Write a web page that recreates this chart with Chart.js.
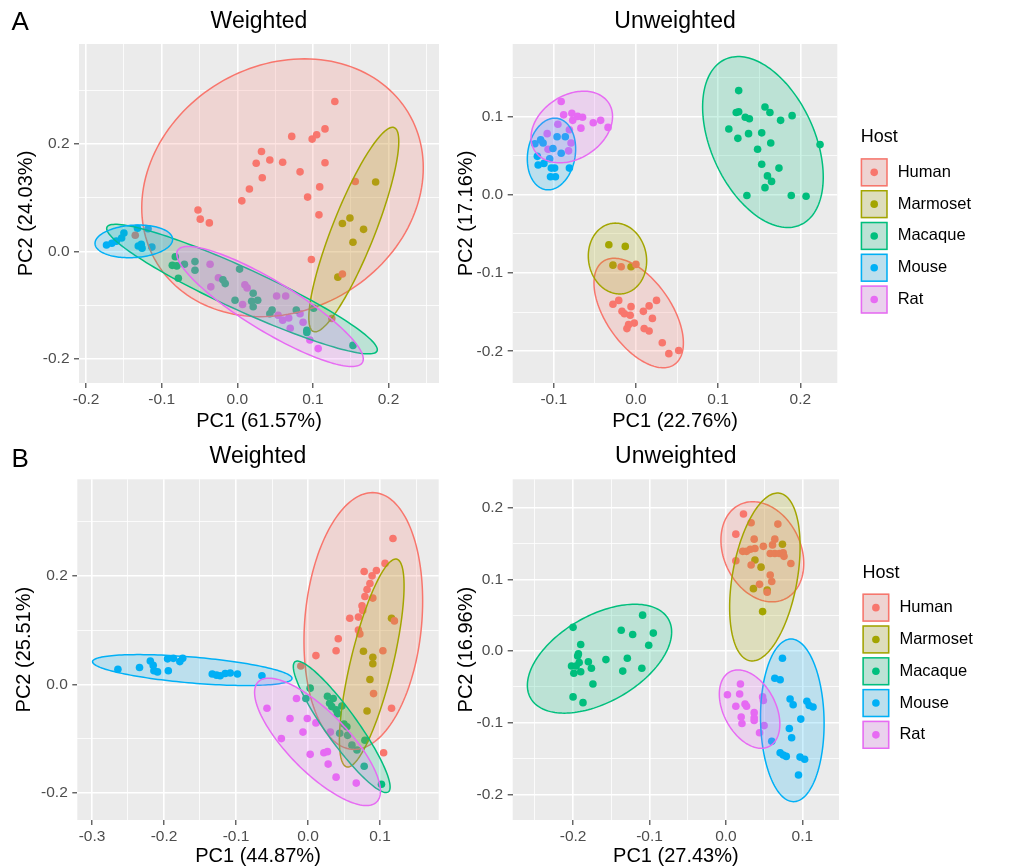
<!DOCTYPE html>
<html>
<head>
<meta charset="utf-8">
<script src="https://cdn.jsdelivr.net/npm/chart.js@4.4.1/dist/chart.umd.min.js"></script>
<style>
  html, body { margin: 0; padding: 0; background: #fff; }
  #wrap { position: relative; width: 1030px; height: 868px; }
  canvas { position: absolute; }
</style>
</head>
<body>
<div id="wrap">
  <canvas id="aWeighted" width="450" height="440" style="left:0;top:0"></canvas>
  <canvas id="aUnweighted" width="580" height="440" style="left:450px;top:0"></canvas>
  <canvas id="bWeighted" width="450" height="428" style="left:0;top:440px"></canvas>
  <canvas id="bUnweighted" width="580" height="428" style="left:450px;top:440px"></canvas>
</div>
<script>
const FONT = '"Liberation Sans", Arial, sans-serif';
const hosts = ['Human', 'Marmoset', 'Macaque', 'Mouse', 'Rat'];
const hostColors = ['#F8766D', '#A3A500', '#00BF7D', '#00B0F6', '#E76BF3'];

// ---- A, weighted ----
const aWHuman = [[0.129,0.279],[0.072,0.214],[0.099,0.209],[0.105,0.217],[0.116,0.228],[0.032,0.186],[0.025,0.164],[0.043,0.170],[0.060,0.166],[0.083,0.148],[0.116,0.165],[0.033,0.137],[0.016,0.116],[0.006,0.094],[0.109,0.120],[0.093,0.101],[0.108,0.068],[-0.052,0.077],[-0.049,0.060],[-0.037,0.053],[0.156,0.130],[0.098,-0.015],[0.139,-0.042],[-0.135,0.030],[0.125,-0.125]];
const aWMarmoset = [[0.183,0.129],[0.139,0.052],[0.149,0.062],[0.167,0.041],[0.153,0.017],[0.133,-0.048]];
const aWMacaque = [[-0.082,-0.010],[-0.086,-0.026],[-0.080,-0.027],[-0.070,-0.024],[-0.056,-0.019],[-0.056,-0.035],[-0.078,-0.050],[0.003,-0.033],[-0.019,-0.053],[-0.016,-0.060],[0.021,-0.078],[0.027,-0.091],[0.019,-0.093],[0.021,-0.103],[-0.003,-0.091],[0.046,-0.109],[0.043,-0.116],[0.078,-0.109],[0.101,-0.106],[0.092,-0.147],[0.092,-0.151],[0.153,-0.175]];
const aWMouse = [[-0.173,0.012],[-0.166,0.015],[-0.160,0.019],[-0.153,0.025],[-0.150,0.034],[-0.132,0.043],[-0.118,0.042],[-0.131,0.010],[-0.126,0.006],[-0.113,0.008],[-0.127,0.013]];
const aWRat = [[-0.036,-0.024],[-0.025,-0.049],[-0.035,-0.066],[0.010,-0.062],[0.013,-0.068],[0.007,-0.099],[0.052,-0.083],[0.064,-0.083],[0.054,-0.119],[0.060,-0.128],[0.068,-0.124],[0.070,-0.143],[0.083,-0.116],[0.087,-0.132],[0.096,-0.165],[0.107,-0.181]];
// ellipse per host: [cx, cy, dx to rightmost point, dy to rightmost point, half height straight above centre]
const aWEllipses = [[0.0598,0.1184,0.1862,0.0372,0.2371],[0.1541,0.0406,0.0595,0.1639,0.0968],[0.0062,-0.0702,0.1790,-0.1127,0.0428],[-0.1369,0.0186,0.0513,0.0037,0.0302],[0.0433,-0.1025,0.1234,-0.0978,0.0540]];
const aWXRange = [-0.2094, 0.2668], aWYRange = [-0.245, 0.386];
const aWXMajor = [-0.2,-0.1,0,0.1,0.2], aWXMinor = [-0.15,-0.05,0.05,0.15,0.25];
const aWYMajor = [-0.2,0,0.2], aWYMinor = [-0.1,0.1,0.3];

// ---- A, unweighted ----
const aUHuman = [[-0.018,-0.092],[0.000,-0.089],[-0.028,-0.140],[-0.021,-0.135],[-0.017,-0.149],[-0.014,-0.152],[-0.006,-0.143],[-0.007,-0.154],[-0.002,-0.164],[-0.009,-0.166],[-0.011,-0.171],[0.009,-0.149],[0.016,-0.142],[0.025,-0.135],[0.020,-0.158],[0.010,-0.171],[0.016,-0.174],[0.032,-0.189],[0.040,-0.203],[0.052,-0.199]];
const aUMarmoset = [[-0.033,-0.064],[-0.013,-0.066],[-0.028,-0.090],[-0.006,-0.092]];
const aUMacaque = [[0.125,0.133],[0.122,0.105],[0.125,0.106],[0.133,0.099],[0.138,0.097],[0.157,0.112],[0.163,0.105],[0.176,0.095],[0.190,0.101],[0.113,0.084],[0.124,0.072],[0.137,0.078],[0.153,0.079],[0.164,0.066],[0.148,0.058],[0.153,0.039],[0.174,0.034],[0.160,0.024],[0.165,0.017],[0.157,0.009],[0.135,-0.001],[0.189,-0.001],[0.207,-0.002],[0.224,0.064]];
const aUMouse = [[-0.123,0.065],[-0.116,0.070],[-0.113,0.066],[-0.096,0.074],[-0.086,0.074],[-0.101,0.059],[-0.105,0.046],[-0.091,0.053],[-0.120,0.049],[-0.119,0.038],[-0.112,0.040],[-0.103,0.034],[-0.099,0.034],[-0.104,0.023],[-0.098,0.023],[-0.081,0.034]];
const aURat = [[-0.091,0.119],[-0.088,0.102],[-0.078,0.104],[-0.077,0.095],[-0.071,0.100],[-0.065,0.099],[-0.067,0.085],[-0.052,0.092],[-0.043,0.095],[-0.034,0.086],[-0.081,0.083],[-0.108,0.078],[-0.095,0.090],[-0.079,0.066],[-0.082,0.056],[-0.107,0.058]];
const aUEllipses = [[0.0033,-0.1511,0.0544,-0.0383,0.0585],[-0.0225,-0.0815,0.0355,-0.0032,0.0451],[0.1545,0.0673,0.0734,-0.0447,0.0996],[-0.1028,0.0520,0.0294,0.0064,0.0453],[-0.0781,0.0865,0.0496,0.0134,0.0437]];
const aUXRange = [-0.150, 0.245], aUYRange = [-0.2405, 0.1925];
const aUXMajor = [-0.1,0,0.1,0.2], aUXMinor = [-0.05,0.05,0.15];
const aUYMajor = [-0.2,-0.1,0,0.1], aUYMinor = [-0.15,-0.05,0.05,0.15];

// ---- B, weighted ----
const bWHuman = [[0.118,0.269],[0.107,0.223],[0.095,0.210],[0.078,0.208],[0.089,0.200],[0.086,0.186],[0.082,0.175],[0.079,0.162],[0.090,0.159],[0.075,0.145],[0.076,0.136],[0.070,0.124],[0.058,0.122],[0.070,0.100],[0.072,0.093],[0.042,0.084],[0.039,0.062],[0.011,0.053],[0.104,0.062],[0.120,0.117],[-0.010,0.034],[0.091,-0.017],[0.116,-0.044],[0.105,-0.126]];
const bWMarmoset = [[0.116,0.122],[0.077,0.061],[0.090,0.050],[0.090,0.038],[0.086,0.009],[0.082,-0.049]];
const bWMacaque = [[0.003,-0.007],[-0.003,-0.026],[0.027,-0.022],[0.035,-0.026],[0.030,-0.035],[0.033,-0.041],[0.039,-0.047],[0.041,-0.054],[0.050,-0.073],[0.054,-0.078],[0.055,-0.094],[0.044,-0.090],[0.061,-0.112],[0.068,-0.121],[0.079,-0.103],[0.078,-0.151],[0.102,-0.184],[0.047,-0.040]];
const bWMouse = [[-0.264,0.028],[-0.234,0.031],[-0.219,0.043],[-0.215,0.035],[-0.214,0.025],[-0.209,0.023],[-0.195,0.047],[-0.187,0.048],[-0.178,0.042],[-0.174,0.048],[-0.194,0.025],[-0.133,0.019],[-0.127,0.017],[-0.122,0.016],[-0.115,0.020],[-0.108,0.021],[-0.098,0.019],[-0.064,0.016]];
const bWRat = [[-0.057,-0.044],[-0.016,-0.026],[-0.025,-0.063],[-0.001,-0.063],[-0.007,-0.088],[-0.037,-0.100],[0.003,-0.129],[0.022,-0.126],[0.027,-0.124],[0.028,-0.147],[0.039,-0.171],[0.067,-0.182],[0.011,-0.071],[0.031,-0.088]];
const bWEllipses = [[0.0768,0.1168,0.0824,0.0369,0.2338],[0.0885,0.0393,0.0449,0.1421,0.1286],[0.0468,-0.0782,0.0672,-0.1109,0.0487],[-0.1607,0.0264,0.1385,-0.0153,0.0240],[0.0132,-0.1059,0.0874,-0.0910,0.0742]];
const bWXRange = [-0.3204, 0.1815], bWYRange = [-0.250, 0.378];
const bWXMajor = [-0.3,-0.2,-0.1,0,0.1], bWXMinor = [-0.25,-0.15,-0.05,0.05,0.15];
const bWYMajor = [-0.2,0,0.2], bWYMinor = [-0.1,0.1,0.3];

// ---- B, unweighted ----
const bUHuman = [[0.023,0.191],[0.033,0.179],[0.068,0.177],[0.013,0.163],[0.037,0.156],[0.064,0.156],[0.022,0.139],[0.027,0.139],[0.032,0.142],[0.038,0.143],[0.049,0.146],[0.058,0.136],[0.061,0.148],[0.064,0.136],[0.070,0.136],[0.075,0.137],[0.076,0.132],[0.085,0.122],[0.013,0.126],[0.033,0.120],[0.058,0.106],[0.060,0.097],[0.044,0.093],[0.054,0.082]];
const bUMarmoset = [[0.074,0.149],[0.038,0.127],[0.046,0.117],[0.036,0.087],[0.054,0.085],[0.048,0.055]];
const bUMacaque = [[-0.200,0.033],[-0.190,0.009],[-0.193,-0.004],[-0.202,-0.021],[-0.196,-0.021],[-0.192,-0.016],[-0.199,-0.031],[-0.190,-0.029],[-0.180,-0.015],[-0.176,-0.024],[-0.174,-0.046],[-0.200,-0.064],[-0.187,-0.072],[-0.157,-0.012],[-0.137,0.029],[-0.122,0.023],[-0.109,0.050],[-0.095,0.025],[-0.101,0.008],[-0.129,-0.010],[-0.135,-0.028],[-0.110,-0.024],[-0.194,-0.007]];
const bUMouse = [[0.074,-0.010],[0.064,-0.038],[0.071,-0.040],[0.084,-0.067],[0.088,-0.075],[0.098,-0.095],[0.106,-0.070],[0.109,-0.076],[0.114,-0.078],[0.083,-0.108],[0.086,-0.121],[0.060,-0.126],[0.071,-0.142],[0.075,-0.145],[0.079,-0.147],[0.097,-0.148],[0.103,-0.151],[0.095,-0.173]];
const bURat = [[0.002,-0.061],[0.019,-0.046],[0.018,-0.060],[0.013,-0.077],[0.025,-0.074],[0.027,-0.077],[0.020,-0.092],[0.021,-0.101],[0.037,-0.086],[0.037,-0.093],[0.037,-0.097],[0.048,-0.064],[0.049,-0.069],[0.050,-0.104],[0.044,-0.114]];
const bUEllipses = [[0.0477,0.1384,0.0542,-0.0163,0.0679],[0.0510,0.1032,0.0461,0.0423,0.1092],[-0.1654,-0.0107,0.0944,0.0372,0.0662],[0.0869,-0.0967,0.0416,-0.0046,0.1133],[0.0310,-0.0810,0.0396,-0.0209,0.0505]];
const bUXRange = [-0.279, 0.148], bUYRange = [-0.2357, 0.2395];
const bUXMajor = [-0.2,-0.1,0,0.1], bUXMinor = [-0.25,-0.15,-0.05,0.05];
const bUYMajor = [-0.2,-0.1,0,0.1,0.2], bUYMinor = [-0.15,-0.05,0.05,0.15];

function rgba(hex, a) {
    const n = parseInt(hex.slice(1), 16);
    return `rgba(${n >> 16},${(n >> 8) & 255},${n & 255},${a})`;
}
const isMajor = (list, v) => list.some(m => Math.abs(m - v) < 1e-9);

function makeAxis(range, major, minor, title, fixedSize, titlePad, tickPad) {
    return {
        type: 'linear', min: range[0], max: range[1],
        afterBuildTicks: s => { s.ticks = major.concat(minor).sort((a, b) => a - b).map(v => ({ value: v })); },
        afterFit: s => { if (s.isHorizontal()) s.height = fixedSize; else s.width = fixedSize; },
        border: { display: false },
        grid: {
            color: '#FFFFFF',
            lineWidth: c => (c.tick && isMajor(major, c.tick.value)) ? 1.6 : 0.8,
            drawTicks: true, tickLength: 5, tickWidth: 1.1,
            tickColor: c => (c.tick && isMajor(major, c.tick.value)) ? '#333333' : 'rgba(0,0,0,0)'
        },
        ticks: {
            autoSkip: false, maxRotation: 0, padding: tickPad, color: '#4D4D4D',
            font: { family: FONT, size: 15.5 },
            callback: v => isMajor(major, v) ? v.toFixed(1) : ''
        },
        title: { display: true, text: title, color: '#000000', font: { family: FONT, size: 20 }, padding: titlePad }
    };
}

function makeChart(id, cfg) {
    const panel = {
        id: 'panel',
        beforeDraw(chart) {
            const a = chart.chartArea, ctx = chart.ctx;
            ctx.save();
            ctx.fillStyle = '#EBEBEB';
            ctx.fillRect(a.left, a.top, a.right - a.left, a.bottom - a.top);
            ctx.restore();
        },
        afterDatasetsDraw(chart) {
            const a = chart.chartArea, ctx = chart.ctx;
            const xs = chart.scales.x, ys = chart.scales.y;
            ctx.save();
            ctx.beginPath(); ctx.rect(a.left, a.top, a.right - a.left, a.bottom - a.top); ctx.clip();
            cfg.ellipses.forEach((e, i) => {
                const cx = xs.getPixelForValue(e[0]), cy = ys.getPixelForValue(e[1]);
                const ax = xs.getPixelForValue(e[0] + e[2]) - cx;
                const ay = ys.getPixelForValue(e[1] + e[3]) - cy;
                const by = ys.getPixelForValue(e[1] + e[4]) - cy;
                ctx.beginPath();
                for (let k = 0; k <= 160; k++) {
                    const t = k / 160 * 2 * Math.PI;
                    const px = cx + ax * Math.cos(t), py = cy + ay * Math.cos(t) + by * Math.sin(t);
                    if (k === 0) ctx.moveTo(px, py); else ctx.lineTo(px, py);
                }
                ctx.closePath();
                ctx.fillStyle = rgba(hostColors[i], 0.2);
                ctx.fill();
                ctx.strokeStyle = hostColors[i];
                ctx.lineWidth = 1.5;
                ctx.stroke();
            });
            ctx.restore();
        },
        afterDraw(chart) {
            const ctx = chart.ctx, a = chart.chartArea;
            ctx.save();
            if (cfg.letter) {
                ctx.fillStyle = '#000';
                ctx.font = '26px ' + FONT;
                ctx.textBaseline = 'middle';
                ctx.fillText(cfg.letter, 11.5, cfg.letterY);
            }
            if (cfg.legend) {
                const x0 = a.right + 23.4, yHost = a.top + 93.5;
                ctx.fillStyle = '#000';
                ctx.textBaseline = 'middle';
                ctx.font = '18px ' + FONT;
                ctx.fillText('Host', x0, yHost);
                ctx.font = '16.5px ' + FONT;
                hosts.forEach((h, i) => {
                    const top = yHost + 20.7 + i * 31.8;
                    ctx.fillStyle = '#EBEBEB';
                    ctx.fillRect(x0, top, 27, 28.3);
                    ctx.fillStyle = rgba(hostColors[i], 0.2);
                    ctx.fillRect(x0, top, 27, 28.3);
                    ctx.strokeStyle = hostColors[i];
                    ctx.lineWidth = 1.5;
                    ctx.strokeRect(x0 + 0.75, top + 0.75, 25.5, 26.8);
                    ctx.beginPath();
                    ctx.arc(x0 + 13.5, top + 14.15, 3.8, 0, 2 * Math.PI);
                    ctx.fillStyle = hostColors[i];
                    ctx.fill();
                    ctx.fillStyle = '#000';
                    ctx.fillText(h, x0 + 37, top + 14.15);
                });
            }
            ctx.restore();
        }
    };

    new Chart(document.getElementById(id), {
        type: 'scatter',
        data: {
            datasets: cfg.series.map((pts, i) => ({
                label: hosts[i],
                data: pts.map(p => ({ x: p[0], y: p[1] })),
                backgroundColor: hostColors[i],
                borderWidth: 0,
                pointRadius: 3.8,
                pointHoverRadius: 3.8
            }))
        },
        options: {
            responsive: false, animation: false, events: [],
            layout: { padding: { left: 0, top: 0, right: cfg.rightPad, bottom: 0 }, autoPadding: false },
            plugins: {
                legend: { display: false },
                tooltip: { enabled: false },
                title: {
                    display: true, text: cfg.title, fullSize: false, color: '#000000',
                    font: { family: FONT, size: 23, weight: 'normal' },
                    padding: cfg.titlePad
                }
            },
            scales: {
                x: makeAxis(cfg.xRange, cfg.xMajor, cfg.xMinor, cfg.xTitle, cfg.xAxisH, { top: 0, bottom: cfg.xTitlePad }, 2),
                y: makeAxis(cfg.yRange, cfg.yMajor, cfg.yMinor, cfg.yTitle, cfg.yAxisW, { top: cfg.yTitlePad, bottom: 0 }, 4.5)
            }
        },
        plugins: [panel]
    });
}

makeChart('aWeighted', {
    title: 'Weighted', titlePad: { top: 8, bottom: 8.4 }, letter: 'A', letterY: 23.3,
    series: [aWHuman, aWMarmoset, aWMacaque, aWMouse, aWRat], ellipses: aWEllipses,
    xRange: aWXRange, yRange: aWYRange, xMajor: aWXMajor, xMinor: aWXMinor, yMajor: aWYMajor, yMinor: aWYMinor,
    xTitle: 'PC1 (61.57%)', yTitle: 'PC2 (24.03%)',
    yAxisW: 79, xAxisH: 57, rightPad: 11, yTitlePad: 14, xTitlePad: 6.3
});
makeChart('aUnweighted', {
    title: 'Unweighted', titlePad: { top: 8, bottom: 8.4 }, legend: true,
    series: [aUHuman, aUMarmoset, aUMacaque, aUMouse, aURat], ellipses: aUEllipses,
    xRange: aUXRange, yRange: aUYRange, xMajor: aUXMajor, xMinor: aUXMinor, yMajor: aUYMajor, yMinor: aUYMinor,
    xTitle: 'PC1 (22.76%)', yTitle: 'PC2 (17.16%)',
    yAxisW: 62.7, xAxisH: 57, rightPad: 192.7, yTitlePad: 4, xTitlePad: 6.3
});
makeChart('bWeighted', {
    title: 'Weighted', titlePad: { top: 2.8, bottom: 8.9 }, letter: 'B', letterY: 20,
    series: [bWHuman, bWMarmoset, bWMacaque, bWMouse, bWRat], ellipses: bWEllipses,
    xRange: bWXRange, yRange: bWYRange, xMajor: bWXMajor, xMinor: bWXMinor, yMajor: bWYMajor, yMinor: bWYMinor,
    xTitle: 'PC1 (44.87%)', yTitle: 'PC2 (25.51%)',
    yAxisW: 77.3, xAxisH: 48, rightPad: 11.3, yTitlePad: 12.3, xTitlePad: 0
});
makeChart('bUnweighted', {
    title: 'Unweighted', titlePad: { top: 2.8, bottom: 8.9 }, legend: true,
    series: [bUHuman, bUMarmoset, bUMacaque, bUMouse, bURat], ellipses: bUEllipses,
    xRange: bUXRange, yRange: bUYRange, xMajor: bUXMajor, xMinor: bUXMinor, yMajor: bUYMajor, yMinor: bUYMinor,
    xTitle: 'PC1 (27.43%)', yTitle: 'PC2 (16.96%)',
    yAxisW: 62.7, xAxisH: 48, rightPad: 191, yTitlePad: 4, xTitlePad: 0
});
</script>
</body>
</html>
